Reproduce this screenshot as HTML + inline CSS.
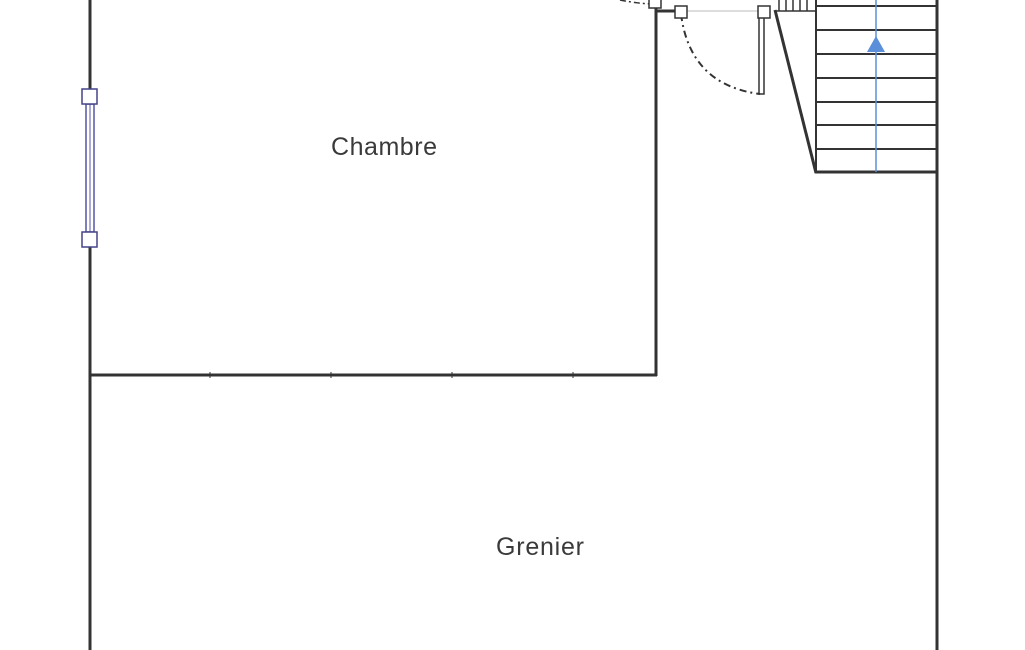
<!DOCTYPE html>
<html><head><style>body{margin:0;background:#fff}svg{display:block}</style></head><body>
<svg width="1025" height="650" viewBox="0 0 1025 650" xmlns="http://www.w3.org/2000/svg">
<g stroke="#333" fill="none">
<line x1="90" y1="0" x2="90" y2="650" stroke-width="3"/>
<line x1="937" y1="0" x2="937" y2="650" stroke-width="3"/>
<line x1="89" y1="375" x2="657" y2="375" stroke-width="3"/>
<line x1="656" y1="8" x2="656" y2="376" stroke-width="3"/>
<line x1="656" y1="11" x2="680" y2="11" stroke-width="3"/>
<line x1="681" y1="11" x2="764" y2="11" stroke="#bbb" stroke-width="1"/>
<path d="M620 0 Q640 4 655 4" stroke-dasharray="6,3,2,3" stroke-width="1.5"/>
<path d="M681 14 Q690 85 760 94" stroke-dasharray="7,4,2,4" stroke-width="2"/>
<rect x="759" y="12" width="5" height="82" stroke-width="1.5"/>
<line x1="775" y1="10" x2="816" y2="173" stroke-width="3"/>
<line x1="815" y1="172" x2="937" y2="172" stroke-width="3"/>
<line x1="816" y1="0" x2="816" y2="173" stroke-width="2"/>
<g stroke-width="2">
<line x1="816" y1="6" x2="936" y2="6"/><line x1="816" y1="30" x2="936" y2="30"/>
<line x1="816" y1="54" x2="936" y2="54"/><line x1="816" y1="78" x2="936" y2="78"/>
<line x1="816" y1="102" x2="936" y2="102"/><line x1="816" y1="125" x2="936" y2="125"/>
<line x1="816" y1="149" x2="936" y2="149"/>
</g>
<g stroke-width="1.5">
<line x1="779" y1="0" x2="779" y2="11"/><line x1="786" y1="0" x2="786" y2="11"/>
<line x1="793" y1="0" x2="793" y2="11"/><line x1="800" y1="0" x2="800" y2="11"/>
<line x1="807" y1="0" x2="807" y2="11"/><line x1="775" y1="11" x2="816" y2="11"/>
</g>
<g stroke-width="1"><line x1="210" y1="372" x2="210" y2="378"/><line x1="331" y1="372" x2="331" y2="378"/><line x1="452" y1="372" x2="452" y2="378"/><line x1="573" y1="372" x2="573" y2="378"/></g>
</g>
<line x1="876" y1="0" x2="876" y2="172" stroke="#5b8fd9" stroke-width="1.5"/>
<polygon points="876,36 867,52 885,52" fill="#5b8fd9"/>
<rect x="86" y="104" width="8" height="128" fill="#fff" stroke="#55a" stroke-width="1.5"/>
<line x1="90" y1="104" x2="90" y2="232" stroke="#55a" stroke-width="1"/>
<g fill="#fff" stroke="#448" stroke-width="1.5">
<rect x="82" y="89" width="15" height="15"/><rect x="82" y="232" width="15" height="15"/>
</g>
<g fill="#fff" stroke="#333" stroke-width="1.5">
<rect x="649" y="-3" width="12" height="11"/><rect x="675" y="6" width="12" height="12"/><rect x="758" y="6" width="12" height="12"/>
</g>
<g font-family="Liberation Sans, sans-serif" font-size="25" fill="#3a3a3a" text-anchor="middle">
<text x="384" y="155" textLength="106">Chambre</text>
<text x="540" y="555" textLength="88">Grenier</text>
</g>
</svg>
</body></html>
